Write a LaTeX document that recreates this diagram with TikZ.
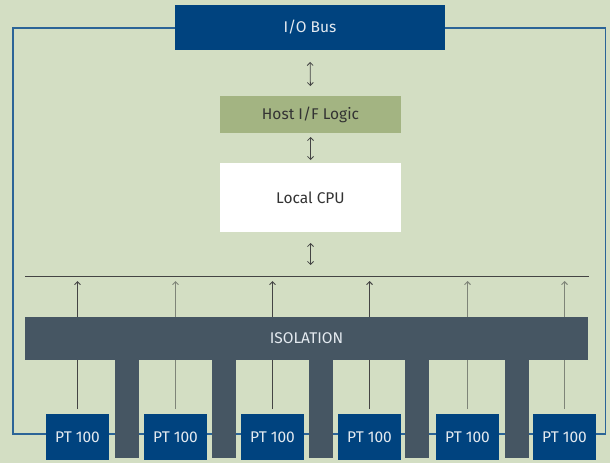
\documentclass[tikz,border=0pt]{standalone}
\usepackage{fontspec}
\setmainfont{Fira Sans}
\usetikzlibrary{arrows.meta}
\definecolor{bg}{HTML}{D3DEC3}
\definecolor{iob}{HTML}{00437F}
\definecolor{hostc}{HTML}{A3B482}
\definecolor{isoc}{HTML}{465663}
\definecolor{framec}{HTML}{2B6497}
\definecolor{txtd}{HTML}{333333}
\definecolor{txtl}{HTML}{E4EAF0}
\definecolor{arrd}{HTML}{444444}
\definecolor{arrg}{HTML}{7E8478}
\tikzset{
  box/.style={rectangle, inner sep=0pt, outer sep=0pt, font=\fontsize{15.5}{18}\selectfont},
  bluebox/.style={box, fill=iob, text=txtl},
  dbl/.style={draw=arrd, line width=0.8pt, {Straight Barb[length=3pt,width=6pt]}-{Straight Barb[length=3pt,width=6pt]}},
  uparr/.style={line width=0.9pt, -{Straight Barb[length=3pt,width=6pt]}},
  pillar/.style={rectangle, fill=isoc, inner sep=0pt, outer sep=0pt, minimum width=24pt, minimum height=98pt, anchor=north},
  ptbox/.style={bluebox, minimum width=63pt, minimum height=46pt}
}
\begin{document}
\begin{tikzpicture}[x=1pt,y=-1pt]
\useasboundingbox (0,0) rectangle (610,463);
\fill[bg] (0,0) rectangle (610,463);
% frame
\draw[framec, line width=1.3pt] (13,28) rectangle (605.5,434);
% top blocks
\node[bluebox, minimum width=270pt, minimum height=45pt] (io) at (310,27.5) {I/O Bus};
\node[box, fill=hostc, text=txtd, minimum width=181pt, minimum height=37pt] (host) at (310.5,114.5) {Host I/F Logic};
\node[box, fill=white, text=txtd, minimum width=181pt, minimum height=69pt] (cpu) at (310.5,197.5) {Local CPU};
% bus line
\coordinate (busL) at (25,276);
\coordinate (busR) at (589,276);
\coordinate (busM) at (310.5,276);
\draw[arrd, line width=1pt] (busL) -- (busR);
\draw[dbl, shorten <=12pt, shorten >=10pt] (io.south) -- (host.north);
\draw[dbl, shorten <=4pt, shorten >=3pt] (host.south) -- (cpu.north);
\draw[dbl, shorten <=11pt, shorten >=11pt] (cpu.south) -- (busM);
% PT boxes
\foreach \i/\x in {1/77.5,2/175.5,3/272.5,4/369.5,5/467.5,6/564.5}{
  \node[ptbox] (pt\i) at (\x,437) {PT 100};
  \coordinate (tip\i) at (\x,276);
}
\foreach \i/\c in {1/arrd,2/arrg,3/arrd,4/arrd,5/arrg,6/arrg}{
  \draw[uparr, draw=\c, shorten <=5pt, shorten >=5pt] (pt\i.north) -- (tip\i);
}
% isolation
\node[box, fill=isoc, text=txtl, minimum width=563pt, minimum height=43pt] (iso) at (306.5,338.5) {ISOLATION};
\foreach \j/\x in {1/127,2/224,3/321,4/417,5/517}{
  \node[pillar] (pil\j) at (\x,360) {};
}
\end{tikzpicture}
\end{document}
